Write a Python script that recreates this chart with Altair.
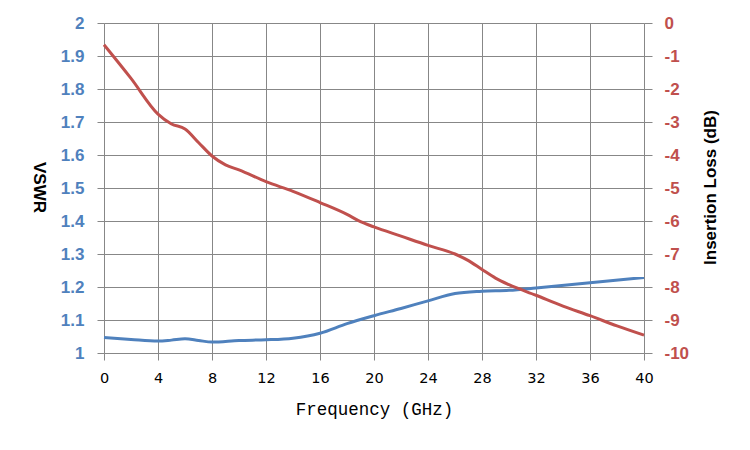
import altair as alt
import pandas as pd

freq_vswr = [0, 2, 4, 5, 6, 7, 8, 10, 12, 14, 16, 18, 20, 22, 24, 26, 28, 30, 32, 36, 40]
vswr = [1.047, 1.041, 1.036, 1.039, 1.043, 1.038, 1.033, 1.038, 1.040, 1.045, 1.060,
        1.089, 1.113, 1.135, 1.158, 1.180, 1.187, 1.190, 1.197, 1.213, 1.229]

freq_il = [0, 2, 4, 5, 6, 7, 8, 9, 10, 12, 14, 16, 18, 19, 20, 22, 24, 26, 27, 28,
           29, 30, 32, 34, 36, 38, 40]
il = [-0.66, -1.68, -2.76, -3.06, -3.21, -3.62, -4.03, -4.30, -4.45, -4.81, -5.10,
      -5.44, -5.80, -6.02, -6.18, -6.46, -6.74, -7.00, -7.20, -7.47, -7.73, -7.93,
      -8.25, -8.58, -8.87, -9.18, -9.46]

x_ticks = [0, 4, 8, 12, 16, 20, 24, 28, 32, 36, 40]
vswr_ticks = [1.0, 1.1, 1.2, 1.3, 1.4, 1.5, 1.6, 1.7, 1.8, 1.9, 2.0]
il_ticks = [0, -1, -2, -3, -4, -5, -6, -7, -8, -9, -10]

BLUE = "#4F81BD"
RED = "#C0504D"
GRID = "#878787"

df_v = pd.DataFrame({"f": freq_vswr, "v": vswr})
df_i = pd.DataFrame({"f": freq_il, "il": il})

x_enc = alt.X(
    "f:Q",
    scale=alt.Scale(domain=[0, 40], nice=False),
    axis=alt.Axis(
        values=x_ticks, grid=True, gridColor=GRID, gridOpacity=1, domain=False,
        tickColor=GRID, tickSize=7, labelFont="DejaVu Sans", labelFontSize=14.5,
        labelColor="black", labelPadding=11, labelFlush=False, title="Frequency (GHz)",
        titleFont="Liberation Mono", titleFontSize=17.5, titleFontWeight="normal",
        titleColor="black", titlePadding=16,
    ),
)

blue = alt.Chart(df_v).mark_line(color=BLUE, strokeWidth=3, interpolate="monotone").encode(
    x=x_enc,
    y=alt.Y(
        "v:Q",
        scale=alt.Scale(domain=[1, 2], nice=False, zero=False),
        axis=alt.Axis(
            orient="left", values=vswr_ticks, format=".1~f", grid=True, gridColor=GRID,
            gridOpacity=1, domain=False, tickColor=GRID, tickSize=7, labelFlush=False,
            labelFont="Liberation Sans", labelFontSize=17, labelFontWeight="bold",
            labelColor=BLUE, labelPadding=13, title="VSWR", titleFont="Liberation Sans",
            titleFontSize=17, titleFontWeight="bold", titleColor="black",
            titleAngle=90, titleX=-66, titleY=164, titleAlign="center",
            titleBaseline="middle",
        ),
    ),
)

red = alt.Chart(df_i).mark_line(color=RED, strokeWidth=3, interpolate="monotone").encode(
    x=alt.X("f:Q", scale=alt.Scale(domain=[0, 40], nice=False)),
    y=alt.Y(
        "il:Q",
        scale=alt.Scale(domain=[-10, 0], nice=False),
        axis=alt.Axis(
            orient="right", values=il_ticks, labelExpr="'' + datum.value", grid=False,
            domain=False, tickColor=GRID, tickSize=8, labelFlush=False,
            labelFont="Liberation Sans", labelFontSize=17, labelFontWeight="bold",
            labelColor=RED, labelPadding=12,
            title="Insertion Loss (dB)", titleFont="Liberation Sans", titleFontSize=17,
            titleFontWeight="bold", titleColor="black", titleAngle=270, titleX=66,
            titleY=164, titleAlign="center", titleBaseline="middle",
        ),
    ),
)

chart = (
    alt.layer(blue, red)
    .resolve_scale(y="independent")
    .properties(
        width=540, height=330, autosize="none",
        padding={"left": 96, "top": 15, "right": 98, "bottom": 82},
    )
    .configure_view(stroke=None)
    .configure(background="white")
)

chart.save("out.html", embed_options={"renderer": "svg", "actions": False})
